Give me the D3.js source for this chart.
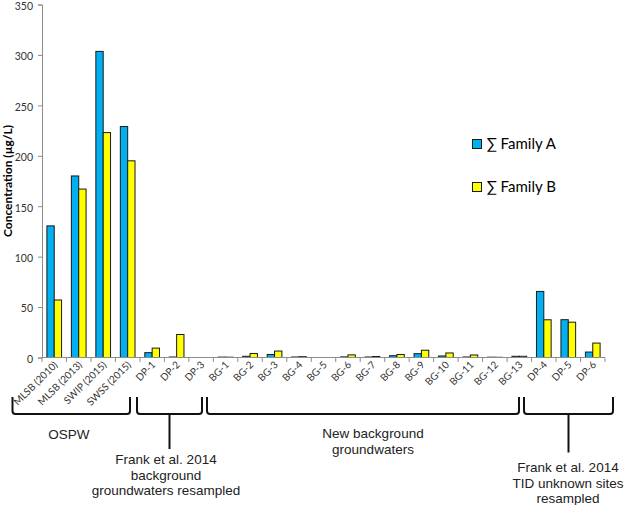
<!DOCTYPE html>
<html>
<head>
<meta charset="utf-8">
<script src="https://cdn.jsdelivr.net/npm/d3@7"></script>
<style>
  html, body { margin: 0; padding: 0; background: #fff; }
  svg { display: block; }
</style>
</head>
<body>
<svg id="chart" width="625" height="505"></svg>
<script>
// ---- data ----
const categories = ["MLSB (2010)", "MLSB (2013)", "SWIP (2015)", "SWSS (2015)",
  "DP-1", "DP-2", "DP-3",
  "BG-1", "BG-2", "BG-3", "BG-4", "BG-5", "BG-6", "BG-7", "BG-8", "BG-9", "BG-10", "BG-11", "BG-12", "BG-13",
  "DP-4", "DP-5", "DP-6"];
const familyA = [130.5, 180, 303.5, 229, 4.8, 0.5, 0, 0.4, 1.2, 3, 0.5, 0, 0.6, 0.5, 1.8, 3.8, 1.5, 0.5, 0.3, 1.2, 65.5, 37.5, 5.4];
const familyB = [57, 167, 223, 195, 9.3, 22.8, 0, 0.3, 4, 6.4, 0.8, 0, 2.6, 1, 3, 7.2, 4.5, 2.5, 0.2, 1.2, 37.4, 35, 14.3];
const seriesNames = ["\u2211 Family A", "\u2211 Family B"];
const seriesColors = ["#00B0F0", "#FFFF00"];
const yTicks = [0, 50, 100, 150, 200, 250, 300, 350];
const yTitle = "Concentration (\u00B5g/L)";
const groups = [
  { lines: ["OSPW"], x0: 12.5, x1: 130, stem: null, tx: 69, ty: 439 },
  { lines: ["Frank et al. 2014", "background", "groundwaters resampled"], x0: 137, x1: 202, stem: 449, tx: 166, ty: 464 },
  { lines: ["New background", "groundwaters"], x0: 207, x1: 519, stem: null, tx: 373, ty: 438 },
  { lines: ["Frank et al. 2014", "TID unknown sites", "resampled"], x0: 524, x1: 613, stem: 452.5, tx: 568, ty: 472 }
];

// ---- layout ----
const svg = d3.select("#chart");
const plotL = 42, plotR = 605, plotT = 4.5, plotB = 357.5;

const x = d3.scaleBand().domain(categories).range([plotL, plotR]).padding(0);
const bw = x.bandwidth();
const x1 = d3.scaleBand().domain([0, 1]).range([bw * 0.2, bw * 0.8]).padding(0);
const y = d3.scaleLinear().domain([0, 350]).range([plotB, plotT]);

// y axis
const yAxis = svg.append("g").attr("transform", `translate(${plotL},0)`)
  .call(d3.axisLeft(y).tickValues(yTicks).tickSize(4).tickPadding(5));
yAxis.select(".domain").attr("stroke", "#8c8c8c");
yAxis.selectAll(".tick line").attr("stroke", "#8c8c8c");
yAxis.selectAll(".tick text").attr("font-family", "Lato, sans-serif").attr("font-size", 10.5)
  .attr("fill", "#333").attr("y", 1.5);

// y title
svg.append("text")
  .attr("transform", `translate(12,${(plotT + plotB) / 2}) rotate(-90)`)
  .attr("text-anchor", "middle")
  .attr("font-family", "Lato, sans-serif").attr("font-weight", "bold").attr("font-size", 12)
  .attr("fill", "#000")
  .text(yTitle);

// bars
const series = [familyA, familyB];
const barG = svg.append("g");
series.forEach((vals, si) => {
  barG.selectAll(".bar" + si)
    .data(categories.map((c, i) => ({ c, v: vals[i] })))
    .enter().append("rect")
    .attr("x", d => x(d.c) + x1(si))
    .attr("width", x1.bandwidth())
    .attr("y", d => y(d.v))
    .attr("height", d => plotB - y(d.v))
    .attr("fill", seriesColors[si])
    .attr("stroke", d => d.v > 0 ? "#1a1a1a" : "none")
    .attr("stroke-width", 1);
});

// x axis
const xAxisG = svg.append("g").attr("transform", `translate(0,${plotB})`);
xAxisG.append("line").attr("x1", plotL).attr("x2", plotR).attr("y1", 0).attr("y2", 0).attr("stroke", "#8c8c8c");
const boundaries = categories.map(c => x(c)).concat([plotR]);
xAxisG.selectAll(".xt").data(boundaries).enter().append("line")
  .attr("x1", d => d).attr("x2", d => d).attr("y1", 0).attr("y2", 4.5).attr("stroke", "#8c8c8c");
xAxisG.selectAll(".xl").data(categories).enter().append("text")
  .attr("transform", d => `translate(${x(d) + bw / 2 + 4},${8}) rotate(-45)`)
  .attr("text-anchor", "end")
  .attr("font-family", "Lato, sans-serif").attr("font-size", 10)
  .attr("fill", "#333")
  .text(d => d);

// legend
const leg = svg.append("g");
seriesNames.forEach((n, i) => {
  const ly = 148.5 + i * 43;
  leg.append("rect").attr("x", 472.5).attr("y", ly - 9).attr("width", 9).attr("height", 9)
    .attr("fill", seriesColors[i]).attr("stroke", "#1a1a1a").attr("stroke-width", 1);
  leg.append("text").attr("x", 486.5).attr("y", ly)
    .attr("font-family", "Lato, sans-serif").attr("font-size", 15).attr("fill", "#000")
    .text(n);
});

// group brackets
const ann = svg.append("g");
groups.forEach(g => {
  const yb = 414, yt = 397, r = 3;
  ann.append("path")
    .attr("d", `M${g.x0},${yt} L${g.x0},${yb - r} Q${g.x0},${yb} ${g.x0 + r},${yb} L${g.x1 - r},${yb} Q${g.x1},${yb} ${g.x1},${yb - r} L${g.x1},${yt}`)
    .attr("fill", "none").attr("stroke", "#111").attr("stroke-width", 2);
  if (g.stem) {
    const sx = (g.x0 + g.x1) / 2;
    ann.append("line").attr("x1", sx).attr("x2", sx).attr("y1", yb).attr("y2", g.stem)
      .attr("stroke", "#111").attr("stroke-width", 2);
  }
  g.lines.forEach((t, i) => {
    ann.append("text").attr("x", g.tx).attr("y", g.ty + i * 15.5)
      .attr("text-anchor", "middle")
      .attr("font-family", "'Liberation Sans', Arial, sans-serif").attr("font-size", 13.5)
      .attr("fill", "#222")
      .text(t);
  });
});
</script>
</body>
</html>
